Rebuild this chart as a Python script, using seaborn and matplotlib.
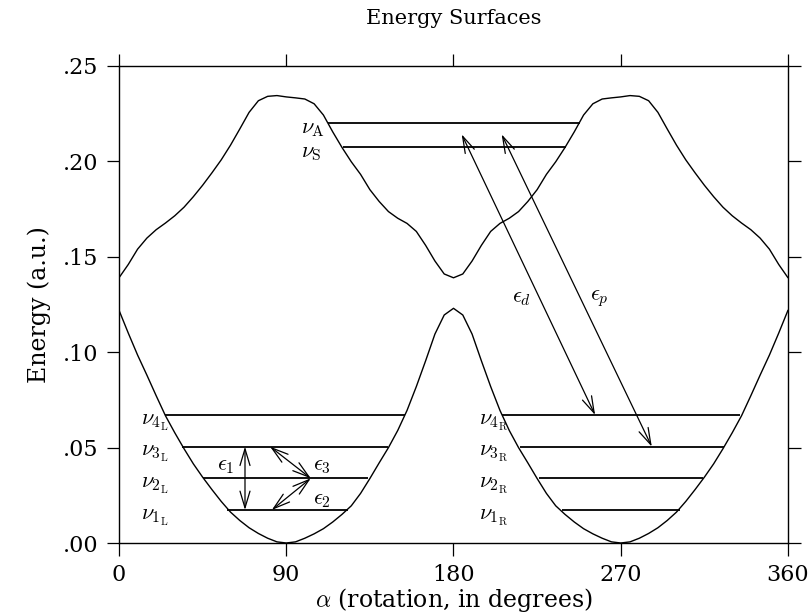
import matplotlib
matplotlib.use("Agg")
import matplotlib.pyplot as plt
import seaborn as sns
import pandas as pd
from matplotlib.ticker import FixedLocator, FuncFormatter

# ---------------- data ----------------
alpha = list(range(0, 361, 5))

upper_energy = [
    0.1390, 0.1460, 0.1540, 0.1598, 0.1642, 0.1677, 0.1715, 0.1760, 0.1815, 0.1875,
    0.1940, 0.2008, 0.2085, 0.2170, 0.2257, 0.2318, 0.2341, 0.2345, 0.2338, 0.2333,
    0.2327, 0.2302, 0.2243, 0.2155, 0.2073, 0.1998, 0.1932, 0.1852, 0.1790, 0.1737,
    0.1702, 0.1675, 0.1633, 0.1560, 0.1478, 0.1410, 0.1390,
    0.1410, 0.1478, 0.1560, 0.1633, 0.1675, 0.1702, 0.1737, 0.1790, 0.1852, 0.1932,
    0.1998, 0.2073, 0.2155, 0.2243, 0.2302, 0.2327, 0.2333, 0.2338, 0.2345, 0.2341,
    0.2318, 0.2257, 0.2170, 0.2085, 0.2008, 0.1940, 0.1875, 0.1815, 0.1760, 0.1715,
    0.1677, 0.1642, 0.1598, 0.1540, 0.1460, 0.1390,
]

lower_energy = [
    0.1220, 0.1100, 0.0985, 0.0880, 0.0772, 0.0667, 0.0578, 0.0494, 0.0415, 0.0345,
    0.0280, 0.0218, 0.0162, 0.0118, 0.0080, 0.0050, 0.0025, 0.0006, 0.0000, 0.0006,
    0.0025, 0.0048, 0.0075, 0.0110, 0.0150, 0.0195, 0.0260, 0.0338, 0.0420, 0.0500,
    0.0590, 0.0695, 0.0820, 0.0955, 0.1095, 0.1195, 0.1230,
    0.1195, 0.1095, 0.0955, 0.0820, 0.0695, 0.0590, 0.0500, 0.0420, 0.0338, 0.0260,
    0.0195, 0.0150, 0.0110, 0.0075, 0.0048, 0.0025, 0.0006, 0.0000, 0.0006, 0.0025,
    0.0050, 0.0080, 0.0118, 0.0162, 0.0218, 0.0280, 0.0345, 0.0415, 0.0494, 0.0578,
    0.0667, 0.0772, 0.0880, 0.0985, 0.1100, 0.1220,
]

# vibrational levels in the two lower wells
well_level_energy = [0.0173, 0.0339, 0.0505, 0.0671]
left_level_start = [58.0, 45.4, 33.7, 24.8]
left_level_end = [123.4, 134.2, 145.0, 153.9]
right_level_start = [238.3, 226.2, 215.8, 205.9]
right_level_end = [301.9, 314.5, 325.3, 334.2]
left_level_labels = [r"$\nu_{1_{\mathrm{L}}}$", r"$\nu_{2_{\mathrm{L}}}$",
                     r"$\nu_{3_{\mathrm{L}}}$", r"$\nu_{4_{\mathrm{L}}}$"]
right_level_labels = [r"$\nu_{1_{\mathrm{R}}}$", r"$\nu_{2_{\mathrm{R}}}$",
                      r"$\nu_{3_{\mathrm{R}}}$", r"$\nu_{4_{\mathrm{R}}}$"]

# levels on the upper surface
upper_level_energy = [0.2077, 0.2203]
upper_level_start = [120.7, 112.7]
upper_level_end = [240.3, 248.0]
upper_level_labels = [r"$\nu_{\mathrm{S}}$", r"$\nu_{\mathrm{A}}$"]

# transitions (double-headed arrows)
trans_labels = [r"$\epsilon_1$", r"$\epsilon_3$", r"$\epsilon_2$", r"$\epsilon_d$", r"$\epsilon_p$"]
trans_x0 = [67.8, 81.3, 82.2, 184.4, 205.9]
trans_y0 = [0.0505, 0.0505, 0.0173, 0.2142, 0.2142]
trans_x1 = [67.8, 103.2, 103.2, 256.2, 286.7]
trans_y1 = [0.0173, 0.0339, 0.0339, 0.0671, 0.0505]
trans_label_x = [53.0, 104.5, 104.5, 211.7, 253.5]
trans_label_y = [0.0410, 0.0410, 0.0230, 0.1290, 0.1285]

x_ticks = [0, 90, 180, 270, 360]
y_ticks = [0.00, 0.05, 0.10, 0.15, 0.20, 0.25]

# ---------------- plot ----------------
sns.set_theme(style="ticks")
plt.rcParams["font.family"] = ["DejaVu Serif"]
plt.rcParams["mathtext.fontset"] = "cm"
plt.rcParams["text.color"] = "black"
plt.rcParams["axes.labelcolor"] = "black"
plt.rcParams["axes.titlecolor"] = "black"

df = pd.DataFrame({
    "alpha": alpha + alpha,
    "energy": upper_energy + lower_energy,
    "surface": ["upper"] * len(alpha) + ["lower"] * len(alpha),
})

fig = plt.figure(figsize=(8.12, 6.16), dpi=100)
ax = fig.add_axes([119 / 812, 1 - 543 / 616, (788 - 119) / 812, (543 - 66) / 616])

sns.lineplot(data=df, x="alpha", y="energy", units="surface", estimator=None,
             color="black", linewidth=1.0, sort=False, ax=ax, legend=False)

lw_lev = 1.3
ax.hlines(well_level_energy, left_level_start, left_level_end, color="black", lw=lw_lev)
ax.hlines(well_level_energy, right_level_start, right_level_end, color="black", lw=lw_lev)
ax.hlines(upper_level_energy, upper_level_start, upper_level_end, color="black", lw=lw_lev)

lab_fs = 16
for e, lab in zip(well_level_energy, left_level_labels):
    ax.text(12.0, e - 0.0035, lab, fontsize=lab_fs, ha="left", va="center")
for e, lab in zip(well_level_energy, right_level_labels):
    ax.text(193.5, e - 0.0035, lab, fontsize=lab_fs, ha="left", va="center")
for e, lab in zip(upper_level_energy, upper_level_labels):
    ax.text(98.0, e - 0.0027, lab, fontsize=lab_fs, ha="left", va="center")

for x0, y0, x1, y1 in zip(trans_x0, trans_y0, trans_x1, trans_y1):
    ax.annotate("", xy=(x1, y1), xytext=(x0, y0),
                arrowprops=dict(arrowstyle="<->,head_length=1.0,head_width=0.3",
                                color="black", lw=0.9, shrinkA=0, shrinkB=0))
for lx, ly, lab in zip(trans_label_x, trans_label_y, trans_labels):
    ax.text(lx, ly, lab, fontsize=lab_fs, ha="left", va="center")

ax.set_xlim(0, 360)
ax.set_ylim(0, 0.25)
ax.xaxis.set_major_locator(FixedLocator(x_ticks))
ax.yaxis.set_major_locator(FixedLocator(y_ticks))
ax.yaxis.set_major_formatter(FuncFormatter(lambda v, p: f"{v:.2f}".lstrip("0")))
ax.tick_params(direction="out", length=9, width=0.9, top=True, right=True,
               labelsize=16, pad=6, colors="black")
for s in ax.spines.values():
    s.set_visible(True)
    s.set_linewidth(1.0)
    s.set_color("black")

ax.set_xlabel(r"$\alpha$ (rotation, in degrees)", fontsize=17, labelpad=0)
ax.set_ylabel("Energy (a.u.)", fontsize=17, labelpad=8)
ax.set_title("Energy Surfaces", fontsize=15, pad=30)

fig.savefig("out.png", dpi=100, facecolor="white")
